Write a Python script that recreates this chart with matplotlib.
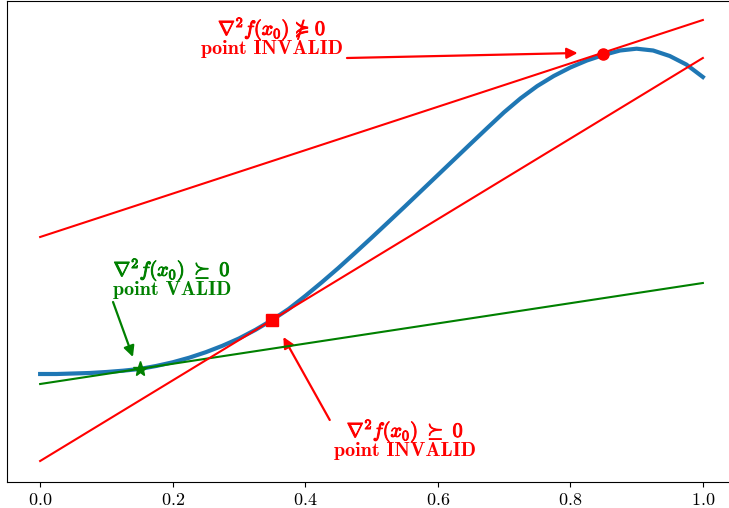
import matplotlib
matplotlib.use("Agg")
import matplotlib.pyplot as plt
import matplotlib.patheffects as pe

plt.rcParams['font.family'] = 'serif'
plt.rcParams['font.serif'] = ['cmr10']
plt.rcParams['mathtext.fontset'] = 'cm'
plt.rcParams['axes.formatter.use_mathtext'] = True

# curve samples
x_curve = [0.0, 0.025, 0.05, 0.075, 0.1, 0.125, 0.15, 0.175, 0.2, 0.225,
           0.25, 0.275, 0.3, 0.325, 0.35, 0.375, 0.4, 0.425, 0.45, 0.475,
           0.5, 0.525, 0.55, 0.575, 0.6, 0.625, 0.65, 0.675, 0.7, 0.725,
           0.75, 0.775, 0.8, 0.825, 0.85, 0.875, 0.9, 0.925, 0.95, 0.975, 1.0]
y_curve = [1.26, 1.26, 1.265, 1.27, 1.28, 1.293, 1.31, 1.34, 1.377, 1.423,
           1.478, 1.542, 1.615, 1.702, 1.80, 1.91, 2.04, 2.177, 2.32, 2.47,
           2.622, 2.777, 2.933, 3.091, 3.249, 3.407, 3.565, 3.722, 3.877, 4.017,
           4.139, 4.24, 4.325, 4.395, 4.45, 4.495, 4.513, 4.495, 4.44, 4.355, 4.23]

# tangent lines, value at x=0 and x=1
x_line = [0.0, 1.0]
y_tan_valid = [1.16, 2.17]
y_tan_mid = [0.39, 4.42]
y_tan_top = [2.63, 4.80]

# tangent points
x0_valid, y0_valid = 0.15, 1.31
x0_mid, y0_mid = 0.35, 1.80
x0_top, y0_top = 0.85, 4.46

xticks = [0.0, 0.2, 0.4, 0.6, 0.8, 1.0]

fig = plt.figure(figsize=(7.29, 5.08), dpi=100)
ax = fig.add_axes([7 / 729, 26 / 508, 729 / 729, 481 / 508])

ax.plot(x_curve, y_curve, color='#1f77b4', lw=3, zorder=3)
ax.plot(x_line, y_tan_valid, color='green', lw=1.5, zorder=4)
ax.plot(x_line, y_tan_mid, color='red', lw=1.5, zorder=4)
ax.plot(x_line, y_tan_top, color='red', lw=1.5, zorder=4)

ax.plot(x0_valid, y0_valid, marker='*', color='green', ms=11, zorder=5)
ax.plot(x0_mid, y0_mid, marker='s', color='red', ms=8, zorder=5)
ax.plot(x0_top, y0_top, marker='o', color='red', ms=8, zorder=5)


def label(x, y, math, word, color):
    t = ax.text(x, y + 0.1, math, color=color, ha='center', va='center', fontsize=14.5)
    t.set_path_effects([pe.Stroke(linewidth=0.7, foreground=color), pe.Normal()])
    ax.text(x, y - 0.1, word, color=color, ha='center', va='center',
            fontsize=14.5, family='cmb10')


def arrow(tail, tip, color):
    ax.annotate('', xy=tip, xytext=tail,
                arrowprops=dict(arrowstyle='-|>', color=color, lw=1.6,
                                mutation_scale=16, shrinkA=0, shrinkB=0))


label(0.350, 4.61, '$\\nabla^2 f(x_0)\\ \u22e1\\ 0$', 'point INVALID', 'red')
arrow((0.463, 4.42), (0.811, 4.47), 'red')

label(0.199, 2.20, r'$\nabla^2 f(x_0)\ \succeq\ 0$', 'point VALID', 'green')
arrow((0.110, 1.98), (0.140, 1.43), 'green')

label(0.551, 0.59, r'$\nabla^2 f(x_0)\ \succeq\ 0$', 'point INVALID', 'red')
arrow((0.437, 0.80), (0.367, 1.63), 'red')

ax.set_xlim(-0.05, 1.05)
ax.set_ylim(0.18, 4.99)
ax.set_xticks(xticks)
ax.set_yticks([])
ax.tick_params(axis='x', labelsize=13)

fig.savefig('out.png', dpi=100)
